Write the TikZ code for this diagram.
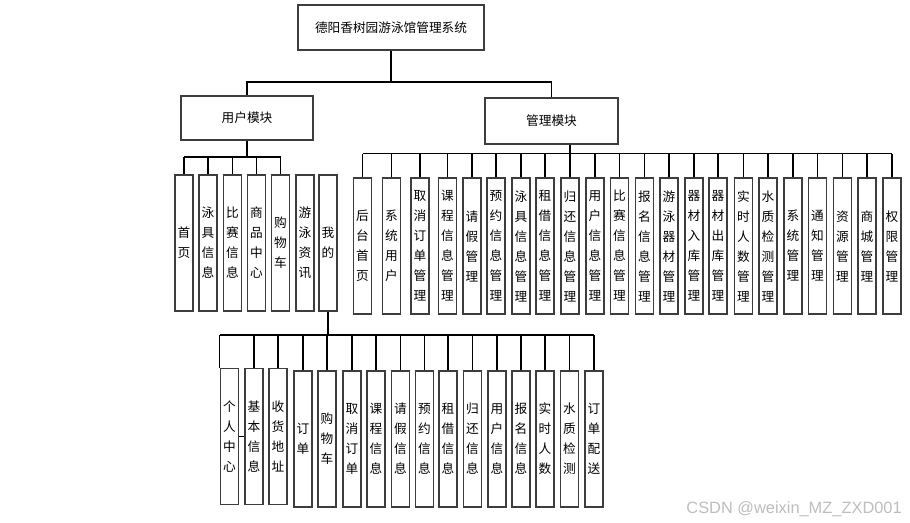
\documentclass[tikz,border=0pt]{standalone}
\usepackage{fontspec}
\setmainfont{Noto Sans CJK SC}
\newfontfamily\markfont{Liberation Sans}
\usepackage{xcolor}
\usepackage{tikz}
\usetikzlibrary{shadows, calc}
\definecolor{myline}{rgb}{0.24, 0.24, 0.24}
\definecolor{myshade}{rgb}{0.55, 0.65, 0.80}
\definecolor{mymark}{rgb}{0.74, 0.74, 0.74}
\tikzstyle{module} = [rectangle, draw=myline, line width=0.85pt, fill=white, font=\fontsize{9.5}{12}\selectfont, drop shadow={shadow xshift=0.7pt, shadow yshift=-0.7pt, opacity=0.15, fill=myshade}]
\tikzstyle{leaf} = [module, minimum width=13.5pt, minimum height=102pt, inner sep=0pt, align=center, font=\fontsize{9.5}{15}\selectfont]
\tikzstyle{link} = [line width=0.8pt, black]

\begin{document}
\begin{tikzpicture}[x=0.75pt, y=-0.75pt]
\useasboundingbox (0,0) rectangle (910,522);

\node[module, minimum width=139.5pt, minimum height=33.75pt] (root) at (391,27.5) {德阳香树园游泳馆管理系统};
\node[module, minimum width=99pt, minimum height=33pt] (user) at (247,118) {用户模块};
\node[module, minimum width=99.75pt, minimum height=34.5pt] (admin) at (551.5,121) {管理模块};

\coordinate (topbus) at (391,82);
\draw[link] (root.south) -- (topbus);
\draw[link] (user.north) |- (topbus) -| (admin.north);

\foreach \x/\t [count=\i] in {184/{首\\页}, 208/{泳\\具\\信\\息}, 232.5/{比\\赛\\信\\息}, 256.5/{商\\品\\中\\心}, 280.5/{购\\物\\车}, 305/{游\\泳\\资\\讯}, 328/{我\\的}}
  \node[leaf] (u\i) at (\x,243) {\t};

\coordinate (userbus) at (247,157);
\draw[link] (user.south) -- (userbus);
\draw[link] (u1.north |- userbus) -- (u5.north |- userbus);
\foreach \i in {1,...,5}
  \draw[link] (u\i.north) -- (u\i.north |- userbus);

\foreach \x/\t [count=\i] in {362.5/{后\\台\\首\\页}, 391.5/{系\\统\\用\\户}, 420/{取\\消\\订\\单\\管\\理}, 447.5/{课\\程\\信\\息\\管\\理}, 472/{请\\假\\管\\理}, 496/{预\\约\\信\\息\\管\\理}, 521/{泳\\具\\信\\息\\管\\理}, 545/{租\\借\\信\\息\\管\\理}, 570/{归\\还\\信\\息\\管\\理}, 595/{用\\户\\信\\息\\管\\理}, 619.5/{比\\赛\\信\\息\\管\\理}, 644.5/{报\\名\\信\\息\\管\\理}, 669/{游\\泳\\器\\材\\管\\理}, 694/{器\\材\\入\\库\\管\\理}, 718/{器\\材\\出\\库\\管\\理}, 743.5/{实\\时\\人\\数\\管\\理}, 768/{水\\质\\检\\测\\管\\理}, 793/{系\\统\\管\\理}, 817.5/{通\\知\\管\\理}, 842.5/{资\\源\\管\\理}, 867/{商\\城\\管\\理}, 892/{权\\限\\管\\理}}
  \node[leaf] (m\i) at (\x,246) {\t};

\coordinate (adminbus) at (570,153.5);
\draw[link] (m9.north |- admin.south) -- (adminbus);
\draw[link] (m1.north |- adminbus) -- (m22.north |- adminbus);
\foreach \i in {1,...,22}
  \draw[link] (m\i.north) -- (m\i.north |- adminbus);

\foreach \x/\yy/\t [count=\i] in {229.5/436.5/{个\\人\\中\\心}, 254/436.5/{基\\本\\信\\息}, 278/436.5/{收\\货\\地\\址}, 303/439/{订\\单}, 327/439/{购\\物\\车}, 352/439/{取\\消\\订\\单}, 376/439/{课\\程\\信\\息}, 400.5/439/{请\\假\\信\\息}, 424.5/439/{预\\约\\信\\息}, 448/439/{租\\借\\信\\息}, 472.5/439/{归\\还\\信\\息}, 497/439/{用\\户\\信\\息}, 521/439/{报\\名\\信\\息}, 545/439/{实\\时\\人\\数}, 569.5/439/{水\\质\\检\\测}, 594/439/{订\\单\\配\\送}}
  \node[leaf] (b\i) at (\x,\yy) {\t};

\coordinate (minebus) at (327,335);
\draw[link] (u7.south) -- (u7.south |- minebus);
\draw[link] (b1.north west |- minebus) -- (b16.north |- minebus);
\draw[link] (b1.north west) -- (b1.north west |- minebus);
\foreach \i in {2,...,16}
  \draw[link] (b\i.north) -- (b\i.north |- minebus);
\draw[link] (b1.east) -- (b2.west);

\node[font=\markfont\fontsize{12.3}{14}\selectfont, text=mymark, anchor=base east, inner sep=0pt] (mark) at (902,513) {CSDN @weixin\_MZ\_ZXD001};
\end{tikzpicture}
\end{document}
